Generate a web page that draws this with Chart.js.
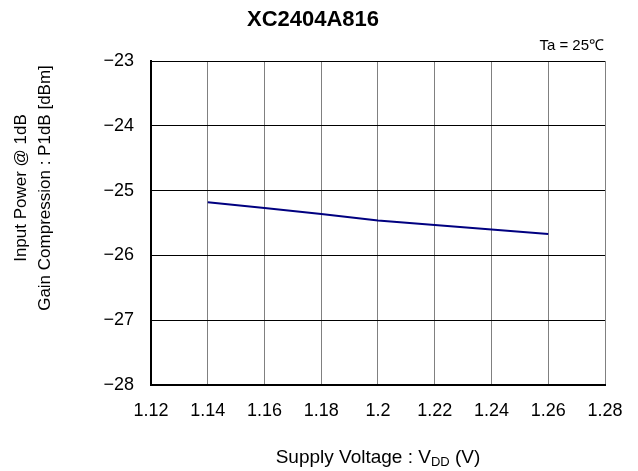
<!DOCTYPE html>
<html>
<head>
<meta charset="utf-8">
<script src="https://cdn.jsdelivr.net/npm/chart.js@4"></script>
<style>
html,body{margin:0;padding:0;background:#fff}
#wrap{width:638px;height:471px}
</style>
</head>
<body>
<div id="wrap"><canvas id="c" width="638" height="471"></canvas></div>
<script>
// data
const voltages = [1.14, 1.16, 1.18, 1.20, 1.22, 1.24, 1.26]
const p1dB = [-25.18, -25.27, -25.36, -25.46, -25.53, -25.60, -25.67]
const xTicks = [1.12, 1.14, 1.16, 1.18, 1.2, 1.22, 1.24, 1.26, 1.28]
const yTicks = [-28, -27, -26, -25, -24, -23]
const chartTitle = "XC2404A816"
const noteText = "Ta = 25\u2103"
const yTitle = ["Input Power @ 1dB", "Gain Compression : P1dB [dBm]"]

const labelFont = "'Liberation Sans', Arial, sans-serif"

const textPlugin = {
    id: "texts",
    afterDraw(chart){
        const ctx = chart.ctx
        const a = chart.chartArea
        ctx.save()
        ctx.fillStyle = "#000"
        // title
        ctx.font = "bold 22px 'Liberation Sans', Arial, sans-serif"
        ctx.textAlign = "center"
        ctx.textBaseline = "middle"
        ctx.fillText(chartTitle, 313, 20)
        // condition note
        ctx.font = "15px 'Liberation Sans', Arial, sans-serif"
        ctx.textAlign = "right"
        ctx.fillText(noteText, a.right - 1, 46)
        // y title, two lines rotated
        ctx.font = "17px " + labelFont
        ctx.textAlign = "center"
        ctx.translate(33, 188)
        ctx.rotate(-Math.PI / 2)
        ctx.fillText(yTitle[0], 0, -12)
        ctx.fillText(yTitle[1], 0, 12)
        ctx.restore()
        // x title with subscript
        ctx.save()
        ctx.fillStyle = "#000"
        ctx.textBaseline = "alphabetic"
        ctx.textAlign = "left"
        const p1 = "Supply Voltage : V", sub = "DD", p2 = " (V)"
        ctx.font = "19px " + labelFont
        const w1 = ctx.measureText(p1).width, w3 = ctx.measureText(p2).width
        ctx.font = "13px " + labelFont
        const w2 = ctx.measureText(sub).width
        let x = 378 - (w1 + w2 + w3) / 2
        const base = 463
        ctx.font = "19px " + labelFont
        ctx.fillText(p1, x, base)
        x += w1
        ctx.font = "13px " + labelFont
        ctx.fillText(sub, x, base + 3)
        x += w2
        ctx.font = "19px " + labelFont
        ctx.fillText(p2, x, base)
        ctx.restore()
    }
}

new Chart(document.getElementById("c").getContext("2d"), {
    type: "line",
    data: {
        datasets: [{
            data: voltages.map((v, i) => ({x: v, y: p1dB[i]})),
            borderColor: "#000080",
            borderWidth: 2,
            pointRadius: 0,
            tension: 0,
            fill: false
        }]
    },
    options: {
        responsive: false,
        animation: false,
        layout: {padding: {left: 0, top: 61, right: 33, bottom: 0}},
        plugins: {legend: {display: false}, tooltip: {enabled: false}},
        scales: {
            x: {
                type: "linear",
                min: 1.12,
                max: 1.28,
                afterBuildTicks: s => { s.ticks = xTicks.map(v => ({value: v})) },
                afterFit: s => { s.height = 86 },
                ticks: {
                    color: "#000",
                    padding: 15,
                    font: {family: labelFont, size: 18},
                    maxRotation: 0,
                    autoSkip: false,
                    callback: v => String(Math.round(v * 100) / 100)
                },
                grid: {color: "#808080", lineWidth: 1, drawTicks: false},
                border: {color: "#000", width: 2}
            },
            y: {
                min: -28,
                max: -23,
                afterBuildTicks: s => { s.ticks = yTicks.map(v => ({value: v})) },
                afterFit: s => { s.width = 151 },
                ticks: {
                    color: "#000",
                    padding: 17,
                    font: {family: labelFont, size: 18},
                    callback: v => String(v).replace("-", "\u2212")
                },
                grid: {color: "#000", lineWidth: 1, drawTicks: false},
                border: {color: "#000", width: 2}
            }
        }
    },
    plugins: [textPlugin]
})
</script>
</body>
</html>
